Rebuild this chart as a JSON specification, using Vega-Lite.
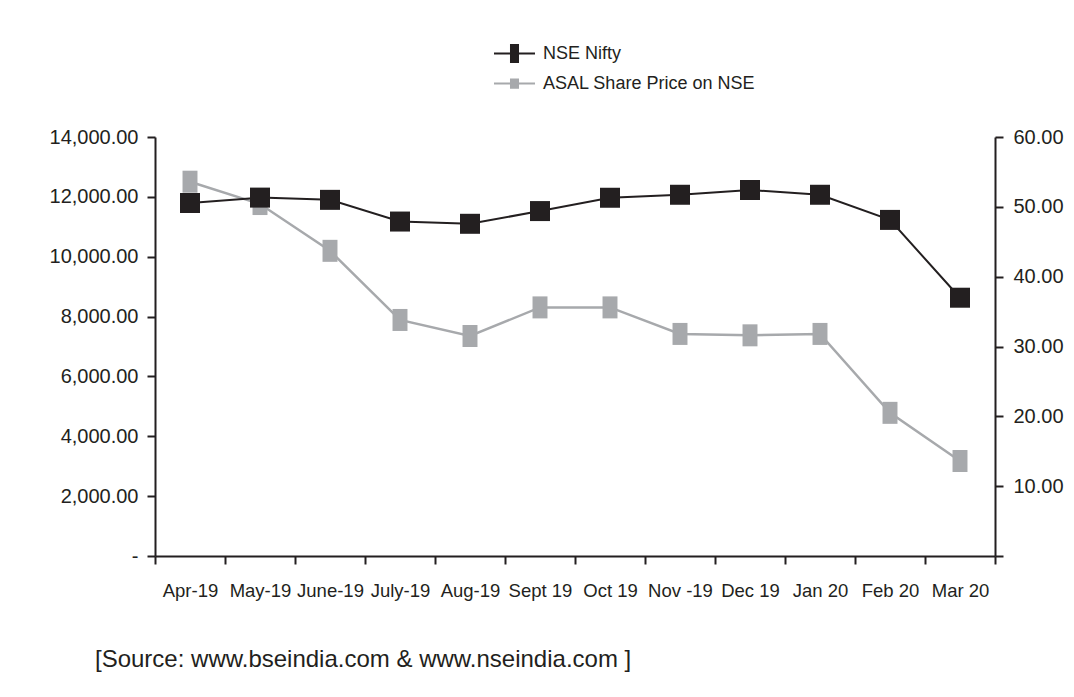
{
  "$schema": "https://vega.github.io/schema/vega-lite/v6.json",
  "width": 840,
  "height": 419,
  "autosize": {"type": "none"},
  "padding": {"left": 155, "top": 137, "right": 79, "bottom": 141},
  "background": "white",
  "config": {"view": {"stroke": null}, "font": "Liberation Sans"},
  "title": {
    "text": "[Source: www.bseindia.com & www.nseindia.com ]",
    "orient": "bottom",
    "anchor": "start",
    "frame": "group",
    "dx": -60,
    "offset": 48,
    "fontSize": 24,
    "fontWeight": "normal",
    "color": "#231f20"
  },
  "data": {
    "values": [
      {"month": "Apr-19", "nifty": 11795, "asal": 53.6},
      {"month": "May-19", "nifty": 11975, "asal": 50.4},
      {"month": "June-19", "nifty": 11900, "asal": 43.7},
      {"month": "July-19", "nifty": 11175, "asal": 33.8},
      {"month": "Aug-19", "nifty": 11100, "asal": 31.5},
      {"month": "Sept 19", "nifty": 11525, "asal": 35.6},
      {"month": "Oct 19", "nifty": 11970, "asal": 35.6},
      {"month": "Nov -19", "nifty": 12070, "asal": 31.8},
      {"month": "Dec 19", "nifty": 12230, "asal": 31.6},
      {"month": "Jan 20", "nifty": 12070, "asal": 31.8},
      {"month": "Feb 20", "nifty": 11230, "asal": 20.5},
      {"month": "Mar 20", "nifty": 8630, "asal": 13.6}
    ]
  },
  "encoding": {
    "x": {
      "field": "month",
      "type": "ordinal",
      "sort": null,
      "bandPosition": 0.5,
      "scale": {"type": "band", "paddingInner": 0, "paddingOuter": 0},
      "axis": {
        "title": null,
        "tickBand": "extent",
        "labelAngle": 0,
        "labelFontSize": 18.5,
        "labelColor": "#231f20",
        "labelPadding": 17,
        "labelOverlap": false,
        "tickSize": 8,
        "tickWidth": 2,
        "tickColor": "#231f20",
        "domainColor": "#231f20",
        "domainWidth": 2,
        "grid": false
      }
    }
  },
  "layer": [
    {
      "encoding": {
        "y": {
          "field": "asal",
          "type": "quantitative",
          "scale": {"domain": [0, 60], "nice": false},
          "axis": {
            "orient": "right",
            "title": null,
            "values": [0, 10, 20, 30, 40, 50, 60],
            "labelExpr": "datum.value == 0 ? '' : format(datum.value, '.2f')",
            "labelFontSize": 20,
            "labelColor": "#231f20",
            "labelPadding": 10,
            "tickSize": 8,
            "tickWidth": 2,
            "tickColor": "#231f20",
            "domainColor": "#231f20",
            "domainWidth": 2,
            "grid": false
          }
        },
        "color": {"datum": "ASAL Share Price on NSE"}
      },
      "layer": [
        {"mark": {"type": "line", "strokeWidth": 2.5}},
        {"mark": {"type": "point", "filled": true, "opacity": 1, "size": 484, "shape": "M-0.68,-1H0.68V1H-0.68Z"}}
      ]
    },
    {
      "encoding": {
        "y": {
          "field": "nifty",
          "type": "quantitative",
          "scale": {"domain": [0, 14000], "nice": false},
          "axis": {
            "orient": "left",
            "title": null,
            "values": [0, 2000, 4000, 6000, 8000, 10000, 12000, 14000],
            "labelExpr": "datum.value == 0 ? '-' : format(datum.value, ',.2f')",
            "labelFontSize": 20,
            "labelColor": "#231f20",
            "labelPadding": 9,
            "tickSize": 8,
            "tickWidth": 2,
            "tickColor": "#231f20",
            "domainColor": "#231f20",
            "domainWidth": 2,
            "grid": false
          }
        },
        "color": {
          "datum": "NSE Nifty",
          "scale": {
            "domain": ["NSE Nifty", "ASAL Share Price on NSE"],
            "range": ["#231f20", "#a7a9ac"]
          },
          "legend": {
            "title": null,
            "orient": "none",
            "legendX": 339,
            "legendY": -104,
            "padding": 0,
            "symbolSize": 1681,
            "symbolStrokeWidth": 0,
            "labelFontSize": 18,
            "labelColor": "#231f20",
            "labelOffset": 8,
            "labelLimit": 400,
            "rowPadding": -1,
            "symbolOpacity": 1,
            "encode": {
              "symbols": {
                "update": {
                  "fill": {"scale": "color", "field": "value"},
                  "strokeWidth": {"value": 0},
                  "shape": {"signal": "datum.value == 'NSE Nifty' ? 'M-1,-0.05H1V0.05H-1Z M-0.22,-0.46H0.22V0.46H-0.22Z' : 'M-1,-0.05H1V0.05H-1Z M-0.22,-0.25H0.22V0.25H-0.22Z'"}
                }
              }
            }
          }
        }
      },
      "layer": [
        {"mark": {"type": "line", "strokeWidth": 2}},
        {"mark": {"type": "point", "filled": true, "opacity": 1, "size": 400, "shape": "square"}}
      ]
    }
  ],
  "resolve": {"scale": {"y": "independent"}}
}
